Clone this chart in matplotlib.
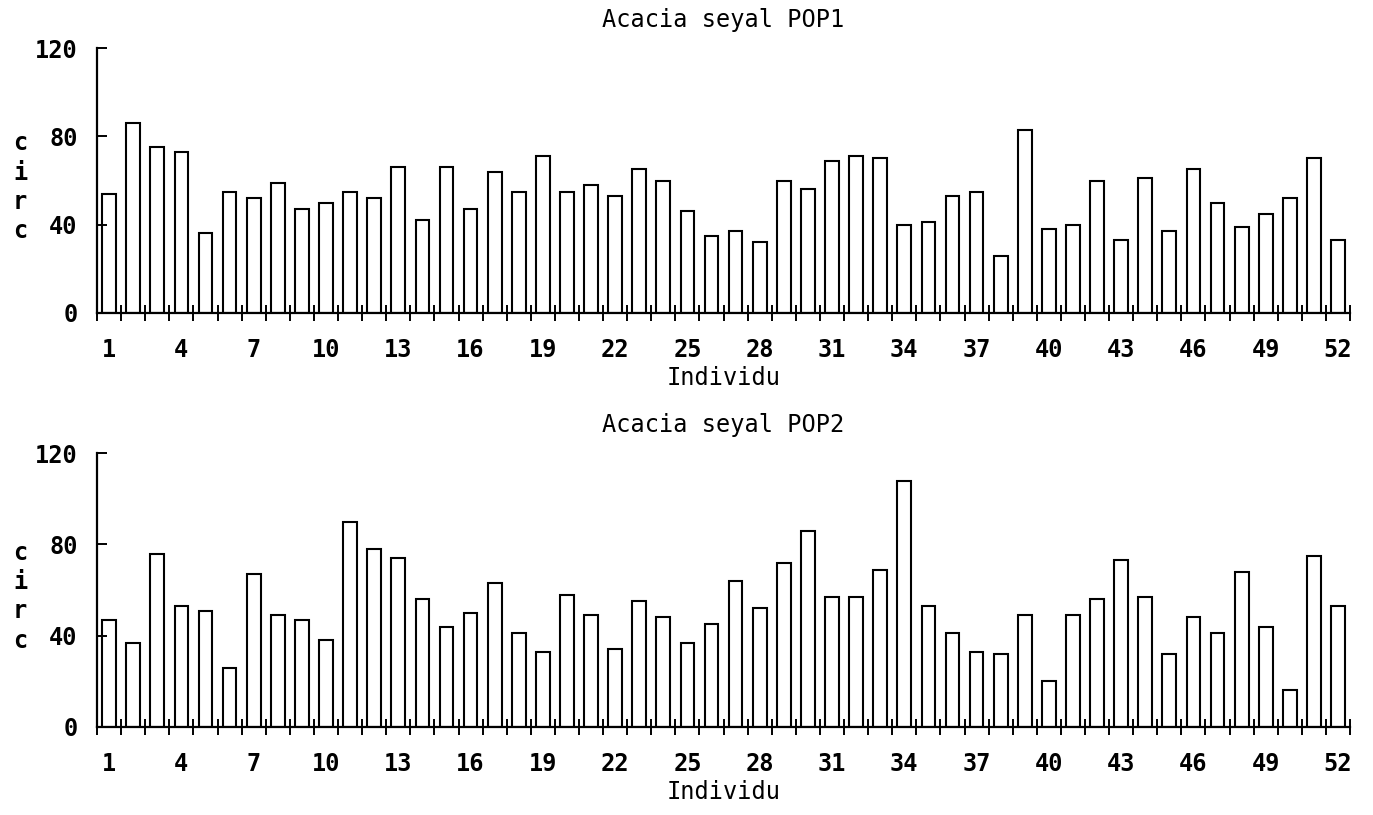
import matplotlib
matplotlib.use("Agg")
import matplotlib.pyplot as plt
import numpy as np

# circumference per individual
individu = list(range(1, 53))
pop1 = [54, 86, 75, 73, 36, 55, 52, 59, 47, 50, 55, 52, 66, 42, 66, 47,
        64, 55, 71, 55, 58, 53, 65, 60, 46, 35, 37, 32, 60, 56, 69, 71,
        70, 40, 41, 53, 55, 26, 83, 38, 40, 60, 33, 61, 37, 65, 50, 39,
        45, 52, 70, 33]
pop2 = [47, 37, 76, 53, 51, 26, 67, 49, 47, 38, 90, 78, 74, 56, 44, 50,
        63, 41, 33, 58, 49, 34, 55, 48, 37, 45, 64, 52, 72, 86, 57, 57,
        69, 108, 53, 41, 33, 32, 49, 20, 49, 56, 73, 57, 32, 48, 41, 68,
        44, 16, 75, 53]
titles = ["Acacia seyal POP1", "Acacia seyal POP2"]
yticks = [0, 40, 80, 120]
xlabels_at = list(range(1, 53, 3))

MONO = "DejaVu Sans Mono"
plt.rcParams.update({"font.family": MONO})

fig = plt.figure(figsize=(13.73, 8.15), dpi=100)
boxes = [[0.0707, 0.616, 0.9126, 0.325], [0.0707, 0.108, 0.9126, 0.336]]

for box, vals, title in zip(boxes, [pop1, pop2], titles):
    ax = fig.add_axes(box)
    ax.bar(individu, vals, width=0.57, facecolor="white", edgecolor="black",
           linewidth=1.5)
    ax.set_xlim(0.5, 52.5)
    ax.set_ylim(0, 120)
    for s in ("top", "right"):
        ax.spines[s].set_visible(False)
    for s in ("left", "bottom"):
        ax.spines[s].set_linewidth(1.6)
    ax.set_yticks(yticks)
    ax.set_yticklabels([str(v) for v in yticks], fontsize=17,
                       fontweight="bold")
    ax.tick_params(axis="y", direction="in", length=7, width=1.4, pad=14)
    ax.set_xticks(xlabels_at)
    ax.set_xticklabels([str(v) for v in xlabels_at], fontsize=17,
                       fontweight="bold")
    ax.set_xticks(np.arange(0.5, 53, 1), minor=True)
    ax.tick_params(axis="x", which="major", length=0, pad=18)
    ax.tick_params(axis="x", which="minor", direction="inout", length=11,
                   width=1.4)
    ax.set_xlabel("Individu", fontsize=17, labelpad=3)
    ax.set_ylabel("c\ni\nr\nc", rotation=0, fontsize=17, fontweight="bold",
                  linespacing=1.27, va="center", ha="center")
    ax.yaxis.set_label_coords(-0.0615, 0.475)
    ax.set_title(title, fontsize=17, pad=15)

fig.savefig("out.png", dpi=100)
